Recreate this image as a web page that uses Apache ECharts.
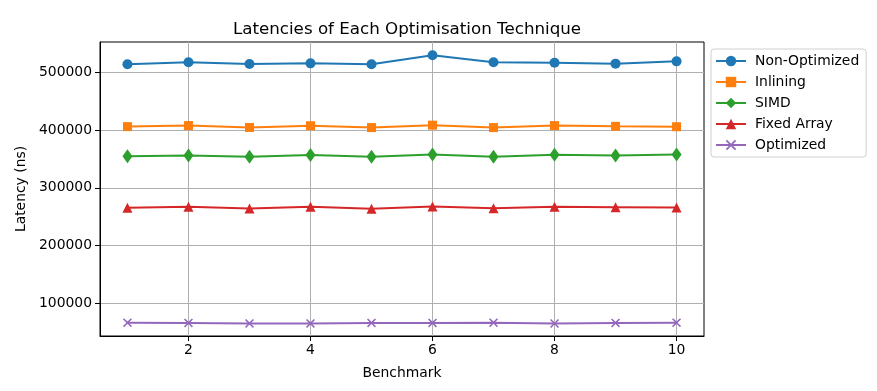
<!DOCTYPE html>
<html><head><meta charset="utf-8">
<script src="https://cdn.jsdelivr.net/npm/echarts@6/dist/echarts.min.js"></script>
<style>html,body{margin:0;padding:0;background:#fff}#c{width:877px;height:391px}</style>
</head><body><div id="c"></div>
<script>
const benchmarks = [1,2,3,4,5,6,7,8,9,10];
const nonOptimized = [514000,517500,514500,515500,514000,529500,517500,516500,515000,519000];
const inlining = [406000,407800,404500,407500,404300,408500,404300,407800,406500,405800];
const simd = [354500,355800,354000,357000,353800,357500,354000,357300,355800,357800];
const fixedArray = [265300,267000,264000,267000,263800,267500,264800,267000,266300,265800];
const optimized = [66500,66000,65200,65200,66000,66000,66500,65000,66000,66500];
const xTicks = [2,4,6,8,10];
const yTicks = [100000,200000,300000,400000,500000];

const F = 'DejaVu Sans';
const xMark = 'path://M0,1.2 L1.2,0 L5,3.8 L8.8,0 L10,1.2 L6.2,5 L10,8.8 L8.8,10 L5,6.2 L1.2,10 L0,8.8 L3.8,5 Z';
function mk(name, data, color, symbol, size){
  return {name, type:'line', data: benchmarks.map((b,i)=>[b,data[i]]), color,
    symbol, symbolSize:size, lineStyle:{width:2,color}, itemStyle:{color}, showSymbol:true, animation:false};
}
const chart = echarts.init(document.getElementById('c'));
chart.setOption({
  animation:false,
  title:{text:'Latencies of Each Optimisation Technique', left:402, top:16, textAlign:'center',
    textStyle:{fontFamily:F, fontSize:16.7, fontWeight:'normal', color:'#000'}},
  grid:{left:100, top:42, width:604, height:294, show:true, borderColor:'#000', borderWidth:1, containLabel:false},
  xAxis:{type:'value', min:0.55, max:10.45, name:'Benchmark', nameLocation:'middle', nameGap:30,
    nameTextStyle:{fontFamily:F, fontSize:13.9, color:'#000'},
    axisLine:{show:true, onZero:false, lineStyle:{color:'#000', width:1}},
    axisTick:{show:true, length:5, lineStyle:{color:'#000'}, customValues:xTicks},
    axisLabel:{fontFamily:F, fontSize:13.9, color:'#000', margin:7, customValues:xTicks},
    splitLine:{show:true, lineStyle:{color:'#b0b0b0', width:1}}},
  yAxis:{type:'value', min:43400, max:552500, name:'Latency (ns)', nameLocation:'middle', nameGap:67,
    nameTextStyle:{fontFamily:F, fontSize:13.9, color:'#000'},
    axisLine:{show:true, onZero:false, lineStyle:{color:'#000', width:1}},
    axisTick:{show:true, length:5, lineStyle:{color:'#000'}, customValues:yTicks},
    axisLabel:{fontFamily:F, fontSize:13.9, color:'#000', margin:8, customValues:yTicks, formatter:v=>String(v)},
    splitLine:{show:true, lineStyle:{color:'#b0b0b0', width:1}}},
  legend:{orient:'vertical', left:711, top:49, itemWidth:30, itemHeight:13, itemGap:7,
    padding:[5,7,5,4], borderColor:'#d0d0d0', borderWidth:1, borderRadius:3, backgroundColor:'rgba(255,255,255,0.8)',
    textStyle:{fontFamily:F, fontSize:13.9, color:'#000', padding:[0,0,0,4]},
    data:['Non-Optimized','Inlining','SIMD','Fixed Array','Optimized']},
  series:[
    mk('Non-Optimized', nonOptimized, '#1f77b4', 'circle', 10),
    mk('Inlining', inlining, '#ff7f0e', 'rect', 9),
    mk('SIMD', simd, '#2ca02c', 'diamond', [10,14]),
    mk('Fixed Array', fixedArray, '#d62728', 'triangle', 10),
    mk('Optimized', optimized, '#9467bd', xMark, 9)
  ]
});
</script></body></html>
